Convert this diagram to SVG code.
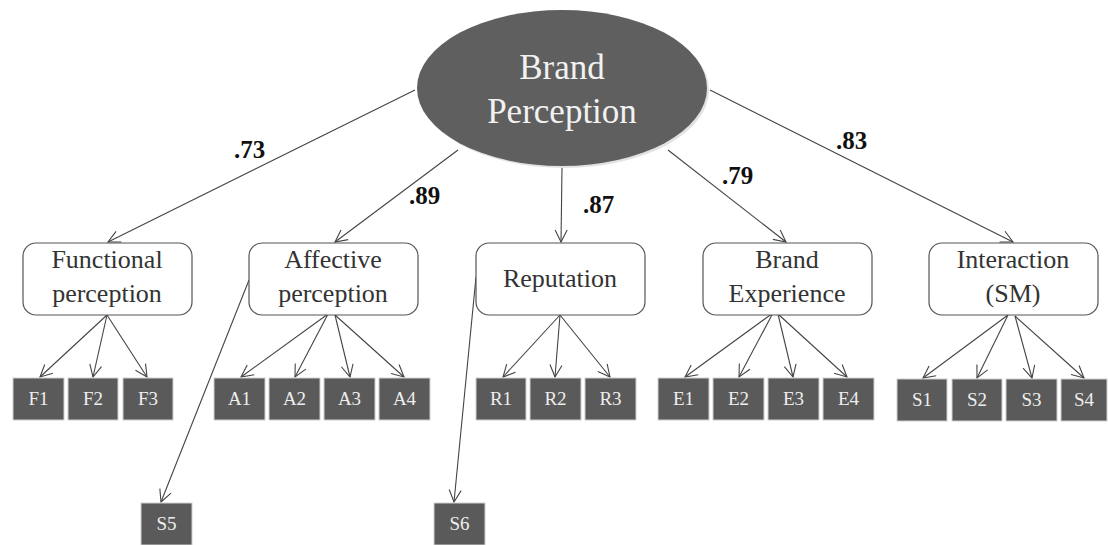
<svg xmlns="http://www.w3.org/2000/svg" width="1108" height="545" viewBox="0 0 1108 545">
<style>
text{font-family:"Liberation Serif","Times New Roman",Tinos,"DejaVu Serif",serif}
.box{fill:#fff;stroke:#555;stroke-width:1.2}
.btxt{font-size:26px;fill:#333;text-anchor:middle}
.ind{fill:#5a5a5a;stroke:#cfcfcf;stroke-width:1}
.itxt{font-size:19px;fill:#eee;text-anchor:middle}
.lbl{font-size:25px;font-weight:bold;fill:#111}
.big{font-size:35px;fill:#f2f2f2;text-anchor:middle}
.cn{stroke:#444;stroke-width:1.1;fill:none;marker-end:url(#ah)}
</style>
<defs>
<marker id="ah" markerUnits="userSpaceOnUse" markerWidth="14" markerHeight="14" viewBox="0 0 14 14" refX="13" refY="7" orient="auto">
<path d="M1,1 L13,7 L1,13" fill="none" stroke="#444" stroke-width="1.1"/>
</marker>
</defs>
<rect width="1108" height="545" fill="#fff"/>
<g id="connectors">
<line class="cn" x1="415" y1="90" x2="108" y2="242"/>
<line class="cn" x1="458" y1="150" x2="335" y2="242"/>
<line class="cn" x1="562" y1="168" x2="561" y2="242"/>
<line class="cn" x1="668" y1="150" x2="786" y2="242"/>
<line class="cn" x1="710" y1="90" x2="1013" y2="242"/>
<line class="cn" x1="107" y1="315" x2="40" y2="377"/>
<line class="cn" x1="107" y1="315" x2="93" y2="377"/>
<line class="cn" x1="107" y1="315" x2="147" y2="377"/>
<line class="cn" x1="328" y1="314" x2="241" y2="377"/>
<line class="cn" x1="328" y1="314" x2="295" y2="377"/>
<line class="cn" x1="335" y1="315" x2="350" y2="377"/>
<line class="cn" x1="335" y1="315" x2="404" y2="377"/>
<line class="cn" x1="560" y1="315" x2="503" y2="377"/>
<line class="cn" x1="560" y1="315" x2="555" y2="377"/>
<line class="cn" x1="560" y1="315" x2="610" y2="377"/>
<line class="cn" x1="773" y1="313" x2="685" y2="377"/>
<line class="cn" x1="773" y1="313" x2="739" y2="377"/>
<line class="cn" x1="778" y1="314" x2="793" y2="377"/>
<line class="cn" x1="778" y1="314" x2="847" y2="377"/>
<line class="cn" x1="1008" y1="315" x2="923" y2="378"/>
<line class="cn" x1="1008" y1="315" x2="977" y2="378"/>
<line class="cn" x1="1015" y1="316" x2="1032" y2="378"/>
<line class="cn" x1="1015" y1="316" x2="1084" y2="378"/>
<line class="cn" x1="249" y1="280" x2="161" y2="502"/>
<line class="cn" x1="476" y1="277" x2="454" y2="502"/>
</g>
<g id="labels">
<text class="lbl" x="234" y="158">.73</text>
<text class="lbl" x="409" y="204">.89</text>
<text class="lbl" x="583" y="213">.87</text>
<text class="lbl" x="722" y="184">.79</text>
<text class="lbl" x="836" y="149">.83</text>
</g>
<g id="brand-perception">
<ellipse cx="564" cy="90" rx="145" ry="78" fill="#e2e2e2"/>
<ellipse cx="562" cy="88" rx="145" ry="78" fill="#5f5f5f"/>
<text class="big" x="562" y="79">Brand</text>
<text class="big" x="562" y="123">Perception</text>
</g>
<g id="functional">
<rect class="box" x="23" y="243" width="169" height="72" rx="13"/>
<text class="btxt" x="107" y="268">Functional</text>
<text class="btxt" x="107" y="302">perception</text>
</g>
<g id="affective">
<rect class="box" x="249" y="243" width="169" height="72" rx="13"/>
<text class="btxt" x="333" y="268">Affective</text>
<text class="btxt" x="333" y="302">perception</text>
</g>
<g id="reputation">
<rect class="box" x="476" y="243" width="169" height="72" rx="13"/>
<text class="btxt" x="560" y="287">Reputation</text>
</g>
<g id="brand-experience">
<rect class="box" x="703" y="243" width="169" height="72" rx="13"/>
<text class="btxt" x="787" y="268">Brand</text>
<text class="btxt" x="787" y="302">Experience</text>
</g>
<g id="interaction">
<rect class="box" x="929" y="243" width="169" height="72" rx="13"/>
<text class="btxt" x="1013" y="268">Interaction</text>
<text class="btxt" x="1013" y="302">(SM)</text>
</g>
<g id="F1"><rect class="ind" x="13" y="378" width="51" height="42"/><text class="itxt" x="38.5" y="405">F1</text></g>
<g id="F2"><rect class="ind" x="68" y="378" width="50" height="42"/><text class="itxt" x="93" y="405">F2</text></g>
<g id="F3"><rect class="ind" x="123" y="378" width="50" height="42"/><text class="itxt" x="148" y="405">F3</text></g>
<g id="A1"><rect class="ind" x="214" y="378" width="51" height="42"/><text class="itxt" x="239.5" y="405">A1</text></g>
<g id="A2"><rect class="ind" x="269" y="378" width="51" height="42"/><text class="itxt" x="294.5" y="405">A2</text></g>
<g id="A3"><rect class="ind" x="324" y="378" width="51" height="42"/><text class="itxt" x="349.5" y="405">A3</text></g>
<g id="A4"><rect class="ind" x="379" y="378" width="51" height="42"/><text class="itxt" x="404.5" y="405">A4</text></g>
<g id="R1"><rect class="ind" x="476" y="378" width="50" height="42"/><text class="itxt" x="501" y="405">R1</text></g>
<g id="R2"><rect class="ind" x="530" y="378" width="51" height="42"/><text class="itxt" x="555.5" y="405">R2</text></g>
<g id="R3"><rect class="ind" x="585" y="378" width="51" height="42"/><text class="itxt" x="610.5" y="405">R3</text></g>
<g id="E1"><rect class="ind" x="658" y="378" width="51" height="42"/><text class="itxt" x="683.5" y="405">E1</text></g>
<g id="E2"><rect class="ind" x="713" y="378" width="51" height="42"/><text class="itxt" x="738.5" y="405">E2</text></g>
<g id="E3"><rect class="ind" x="768" y="378" width="51" height="42"/><text class="itxt" x="793.5" y="405">E3</text></g>
<g id="E4"><rect class="ind" x="823" y="378" width="51" height="42"/><text class="itxt" x="848.5" y="405">E4</text></g>
<g id="S1"><rect class="ind" x="897" y="379" width="50" height="42"/><text class="itxt" x="922" y="406">S1</text></g>
<g id="S2"><rect class="ind" x="952" y="379" width="50" height="42"/><text class="itxt" x="977" y="406">S2</text></g>
<g id="S3"><rect class="ind" x="1006" y="379" width="51" height="42"/><text class="itxt" x="1031.5" y="406">S3</text></g>
<g id="S4"><rect class="ind" x="1061" y="379" width="46" height="42"/><text class="itxt" x="1084" y="406">S4</text></g>
<g id="S5"><rect class="ind" x="141" y="503" width="51" height="42"/><text class="itxt" x="166.5" y="530">S5</text></g>
<g id="S6"><rect class="ind" x="434" y="503" width="51" height="42"/><text class="itxt" x="459.5" y="530">S6</text></g>
</svg>
